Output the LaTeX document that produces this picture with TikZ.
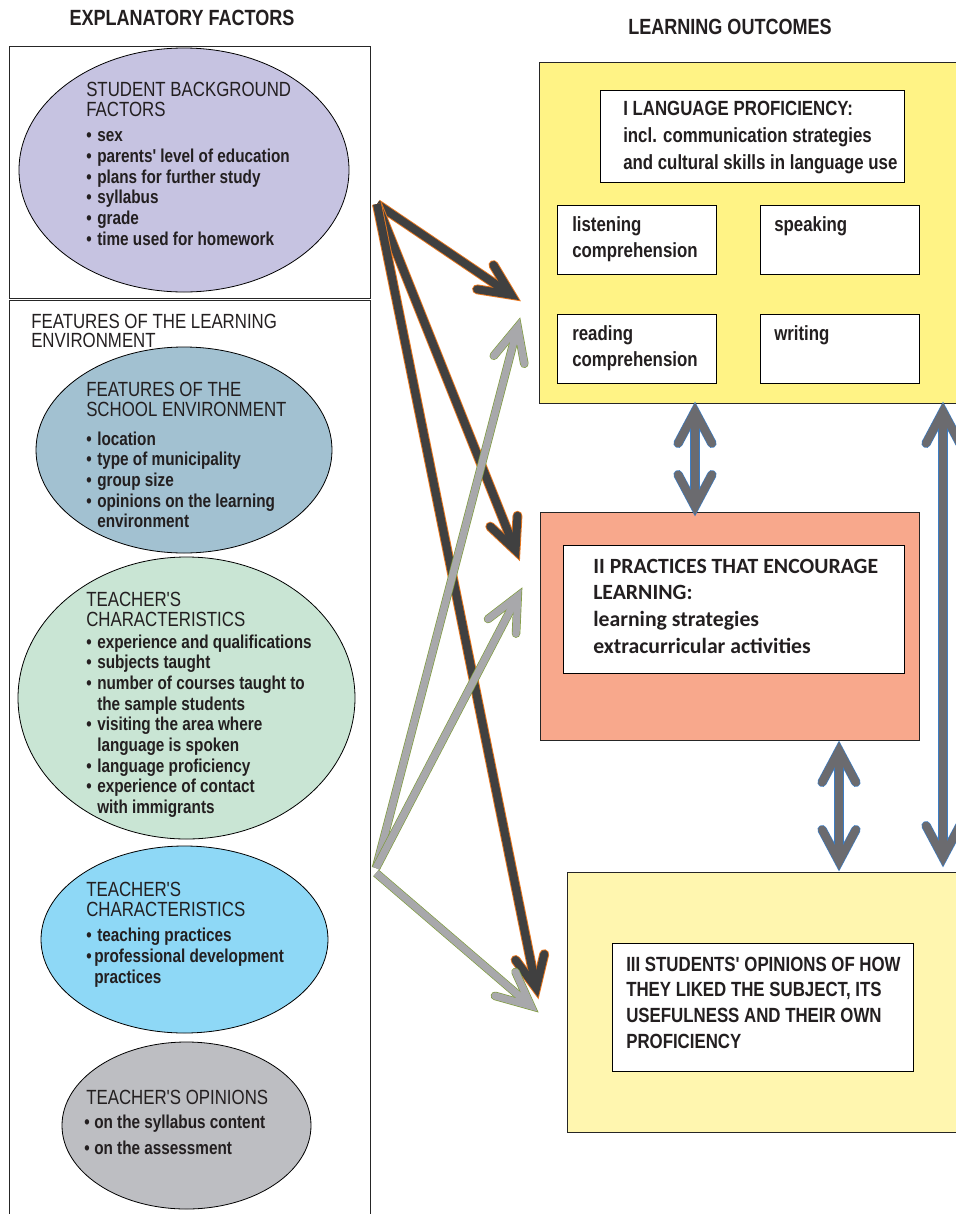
\documentclass[tikz,border=0pt]{standalone}
\usepackage{fontspec}
\setmainfont{Liberation Sans}
\newfontfamily\nar{Liberation Sans}[FakeStretch=0.82]
\newfontfamily\carl{Carlito}
\usetikzlibrary{shapes.geometric,calc}
\definecolor{txt}{HTML}{231F20}
\definecolor{cPur}{HTML}{C6C3E1}
\definecolor{cSteel}{HTML}{A2C1D1}
\definecolor{cGreen}{HTML}{C9E5D4}
\definecolor{cSky}{HTML}{8ED8F6}
\definecolor{cGrey}{HTML}{BDBEC2}
\definecolor{cYel}{HTML}{FFF385}
\definecolor{cSal}{HTML}{F8A88C}
\definecolor{cPale}{HTML}{FFF6AF}
\definecolor{arrD}{HTML}{404040}
\definecolor{arrO}{HTML}{E8771E}
\definecolor{arrG}{HTML}{A8A8AB}
\definecolor{arrGe}{HTML}{7E9B3C}
\definecolor{arrB}{HTML}{6B6B6F}
\definecolor{arrBe}{HTML}{3C7DC4}
\newcommand\bl{\makebox[8.25pt][l]{•}}
\newcommand\ind{\hspace*{8.25pt}}
\newcommand\headat[5]{% #1 joint, #2 back coord, #3 style, #4 arm length, #5 angle
  \draw[#3, line join=miter, line cap=round] ($(#1)!#4!#5:(#2)$) -- (#1) -- ($(#1)!#4!-#5:(#2)$);}
\newcommand\fatarrow[6]{% #1 from, #2 tip, #3 edge, #4 core, #5 arm, #6 angle
  \coordinate (fJ) at ($(#2)!7pt!(#1)$);
  \draw[#3] (#1) -- (fJ); \headat{fJ}{#1}{#3}{#5}{#6}
  \draw[#4] (#1) -- (fJ); \headat{fJ}{#1}{#4}{#5}{#6}}
\newcommand\dblarrow[6]{% #1 tip1, #2 tip2, #3 edge, #4 core, #5 arm, #6 angle
  \coordinate (dA) at ($(#1)!6.4pt!(#2)$);
  \coordinate (dB) at ($(#2)!6.4pt!(#1)$);
  \draw[#3] (dA) -- (dB); \headat{dA}{#2}{#3}{#5}{#6}\headat{dB}{#1}{#3}{#5}{#6}
  \draw[#4] (dA) -- (dB); \headat{dA}{#2}{#4}{#5}{#6}\headat{dB}{#1}{#4}{#5}{#6}}
\tikzset{
  lbl/.style={inner sep=0pt, anchor=base west, align=left, text=txt},
  title/.style={inner sep=0pt, anchor=base, text=txt, font={\nar\bfseries\fontsize{16.5pt}{18pt}\selectfont}},
  head/.style={lbl, font={\nar\fontsize{15.4pt}{15pt}\selectfont}},
  items/.style={lbl, font={\nar\bfseries\fontsize{14pt}{15.5pt}\selectfont}},
  boxtext/.style={lbl, font={\nar\bfseries\fontsize{15.4pt}{20pt}\selectfont}},
  ell/.style={ellipse, draw=black, line width=0.6pt, inner sep=0pt},
  frame/.style={rectangle, draw=black!85, line width=0.9pt, inner sep=0pt, anchor=north west},
  wbox/.style={rectangle, draw=black, fill=white, line width=0.8pt, inner sep=0pt, anchor=north west},
  dkedge/.style={draw=arrO, line width=7.4pt},
  dkcore/.style={draw=arrD, line width=6pt},
  gyedge/.style={draw=arrGe, line width=6.4pt},
  gycore/.style={draw=arrG, line width=5.4pt},
  bledge/.style={draw=arrBe, line width=7pt},
  blcore/.style={draw=arrB, line width=6pt},
}
\begin{document}
\begin{tikzpicture}[x=0.75pt, y=-0.75pt]
\useasboundingbox (0,0) rectangle (956,1214);
% titles
\node[title] (t1) at (182,25) {EXPLANATORY FACTORS};
\node[title] (t2) at (730,34) {LEARNING OUTCOMES};
% left frames
\node[frame, minimum width=270.75pt, minimum height=189pt] (f1) at (9,46) {};
\node[frame, minimum width=270.75pt, minimum height=690pt] (f2) at (9,300) {};
\node[head, font={\nar\fontsize{15.4pt}{14.2pt}\selectfont}] (f2h) at (31,347.3) {FEATURES OF THE LEARNING\\ENVIRONMENT};
% ellipses
\node[ell, fill=cPur, minimum width=247.5pt, minimum height=183pt] (e1) at (184,170) {};
\node[ell, fill=cSteel, minimum width=222pt, minimum height=154.5pt] (e2) at (184,450) {};
\node[ell, fill=cGreen, minimum width=252.75pt, minimum height=211.5pt] (e3) at (186.5,698) {};
\node[ell, fill=cSky, minimum width=215.25pt, minimum height=140.25pt] (e4) at (184.5,939.5) {};
\node[ell, fill=cGrey, minimum width=186.75pt, minimum height=125.25pt] (e5) at (186.5,1125.5) {};
% ellipse texts (anchored at the baseline of the last line)
\node[head] (e1h) at (86,116.7) {STUDENT BACKGROUND\\FACTORS};
\node[items] (e1l) at (86,245) {\bl sex\\\bl parents' level of education\\\bl plans for further study\\\bl syllabus\\\bl grade\\\bl time used for homework};
\node[head] (e2h) at (86,416.5) {FEATURES OF THE\\SCHOOL ENVIRONMENT};
\node[items] (e2l) at (86,527.7) {\bl location\\\bl type of municipality\\\bl group size\\\bl opinions on the learning\\\ind environment};
\node[head] (e3h) at (86,626) {TEACHER'S\\CHARACTERISTICS};
\node[items] (e3l) at (86,813.6) {\bl experience and qualifications\\\bl subjects taught\\\bl number of courses taught to\\\ind the sample students\\\bl visiting the area where\\\ind language is spoken\\\bl language proficiency\\\bl experience of contact\\\ind with immigrants};
\node[head] (e4h) at (86,916.7) {TEACHER'S\\CHARACTERISTICS};
\node[items] (e4l) at (86,983) {\bl teaching practices\\\makebox[6pt][l]{•}professional development\\\hspace*{6pt}practices};
\node[head] (e5h) at (86,1104) {TEACHER'S OPINIONS};
\node[items, font={\nar\bfseries\fontsize{14pt}{19.5pt}\selectfont}] (e5l) at (84,1154.3) {\makebox[7.5pt][l]{•}on the syllabus content\\\makebox[7.5pt][l]{•}on the assessment};
% right boxes
\node[frame, fill=cYel, minimum width=317.25pt, minimum height=255.75pt] (b1) at (539,62) {};
\node[wbox, minimum width=228pt, minimum height=69pt] (b1t) at (600,90) {};
\node[boxtext] (b1tt) at (623,169.3) {I LANGUAGE PROFICIENCY:\\incl. communication strategies\\and cultural skills in language use};
\node[wbox, minimum width=119.25pt, minimum height=51.75pt] (lis) at (557,205) {};
\node[wbox, minimum width=119.25pt, minimum height=51.75pt] (spk) at (760,205) {};
\node[wbox, minimum width=119.25pt, minimum height=51.75pt] (rea) at (557,314) {};
\node[wbox, minimum width=119.25pt, minimum height=51.75pt] (wri) at (760,314) {};
\node[boxtext, font={\nar\bfseries\fontsize{15.4pt}{19.2pt}\selectfont}] (list) at (572,257.3) {listening\\comprehension};
\node[boxtext] (spkt) at (774,231.7) {speaking};
\node[boxtext, font={\nar\bfseries\fontsize{15.4pt}{19pt}\selectfont}] (reat) at (572,366) {reading\\comprehension};
\node[boxtext] (writ) at (774,340.7) {writing};
\node[frame, fill=cSal, minimum width=284.25pt, minimum height=171pt] (b2) at (540,512) {};
\node[wbox, minimum width=255.75pt, minimum height=96pt] (b2t) at (563,545) {};
\node[lbl, font={\carl\bfseries\fontsize{16.3pt}{20pt}\selectfont}] (b2tt) at (593,653.3) {II PRACTICES THAT ENCOURAGE\\LEARNING:\\learning strategies\\extracurricular activities};
\node[frame, fill=cPale, minimum width=296.25pt, minimum height=195pt] (b3) at (567,872) {};
\node[wbox, minimum width=225.75pt, minimum height=96pt] (b3t) at (612,943) {};
\node[boxtext, font={\nar\bfseries\fontsize{15.4pt}{19.4pt}\selectfont}] (b3tt) at (626,1048.6) {III STUDENTS' OPINIONS OF HOW\\THEY LIKED THE SUBJECT, ITS\\USEFULNESS AND THEIR OWN\\PROFICIENCY};
% arrow end points
\coordinate (dkO) at (377,204);
\coordinate (dk1) at (519,300);
\coordinate (dk2) at (519,559);
\coordinate (dk3) at (538,997);
\coordinate (gyO) at (376,868);
\coordinate (gyO2) at (376,873);
\coordinate (gy1) at (520,318);
\coordinate (gy2) at (522,588);
\coordinate (gy3) at (538,1012);
\coordinate (bA1) at (695,403);
\coordinate (bA2) at (695,515);
\coordinate (bB1) at (839,742);
\coordinate (bB2) at (839,870);
\coordinate (bC1) at (943,403);
\coordinate (bC2) at (943,866);
% dark arrows
\fatarrow{dkO}{dk1}{dkedge}{dkcore}{26pt}{25}
\fatarrow{dkO}{dk2}{dkedge}{dkcore}{26pt}{25}
\fatarrow{dkO}{dk3}{dkedge}{dkcore}{26pt}{25}
% grey arrows
\fatarrow{gyO}{gy1}{gyedge}{gycore}{28pt}{25}
\fatarrow{gyO}{gy2}{gyedge}{gycore}{28pt}{25}
\fatarrow{gyO2}{gy3}{gyedge}{gycore}{28pt}{25}
% blue double arrows
\dblarrow{bA1}{bA2}{bledge}{blcore}{27pt}{28}
\dblarrow{bB1}{bB2}{bledge}{blcore}{27pt}{28}
\dblarrow{bC1}{bC2}{bledge}{blcore}{27pt}{28}
\end{tikzpicture}
\end{document}
